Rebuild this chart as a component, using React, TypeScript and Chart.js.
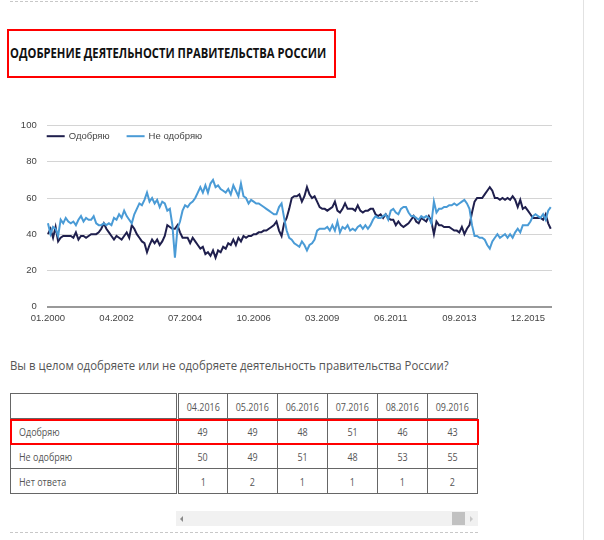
import { useEffect, useRef } from "react";
import { Chart, registerables, type ChartOptions, type Plugin } from "chart.js";

Chart.register(...registerables);

// monthly surveys, 01.2000 .. 09.2016 (199 points), labels every 27th point
const tickLabels = ["01.2000", "04.2002", "07.2004", "10.2006", "03.2009", "06.2011", "09.2013", "12.2015"];
const tickEvery = 27;

const approve = [
  40, 43, 38, 44, 36, 38, 39, 39, 39, 39, 38, 41, 37, 39, 39, 38, 39, 40, 40, 40,
  41, 43, 46, 43, 41, 39, 37, 39, 38, 37, 39, 41, 38, 45, 43, 40, 38, 36, 35, 30,
  34, 37, 35, 37, 34, 36, 39, 45, 44, 43, 43, 45, 41, 38, 38, 38, 35, 38, 36, 34,
  32, 33, 29, 30, 28, 31, 27, 31, 30, 33, 32, 35, 34, 37, 34, 38, 36, 39, 38, 39,
  39, 40, 40, 41, 41, 42, 42, 43, 44, 45, 47, 42, 39, 46, 49, 54, 60, 61, 61, 62,
  58, 61, 66, 62, 60, 61, 58, 55, 54, 54, 53, 54, 55, 58, 53, 52, 54, 57, 54, 54,
  54, 53, 56, 53, 52, 53, 53, 54, 54, 51, 50, 51, 49, 51, 49, 48, 48, 45, 47, 45,
  44, 45, 46, 48, 50, 47, 46, 49, 48, 47, 50, 47, 40, 47, 45, 45, 44, 44, 44, 43,
  42, 42, 41, 44, 40, 43, 45, 52, 58, 60, 60, 60, 62, 64, 66, 64, 60, 60, 59, 60,
  59, 60, 59, 61, 59, 55, 59, 54, 55, 53, 51, 49, 49, 49, 49, 48, 51, 46, 43,
];

const disapprove = [
  46, 40, 44, 43, 39, 48, 46, 49, 47, 46, 47, 45, 48, 50, 47, 49, 48, 48, 50, 46,
  45, 45, 46, 45, 46, 45, 49, 48, 51, 49, 53, 50, 48, 46, 51, 54, 57, 56, 59, 63,
  58, 60, 57, 59, 55, 58, 57, 53, 54, 45, 27, 43, 47, 53, 56, 55, 57, 58, 60, 63,
  66, 63, 67, 63, 68, 70, 66, 67, 65, 64, 63, 65, 62, 67, 64, 61, 68, 61, 60, 57,
  59, 58, 57, 57, 56, 55, 54, 53, 52, 51, 51, 55, 57, 49, 42, 38, 37, 35, 34, 33,
  36, 34, 31, 34, 35, 37, 42, 43, 43, 43, 44, 42, 45, 42, 47, 41, 44, 43, 45, 42,
  43, 42, 44, 45, 43, 45, 43, 45, 48, 50, 49, 49, 50, 51, 48, 53, 54, 52, 51, 54,
  55, 55, 52, 50, 50, 49, 48, 50, 49, 50, 49, 46, 58, 52, 54, 54, 55, 55, 56, 56,
  57, 56, 57, 58, 59, 57, 54, 45, 39, 39, 38, 38, 37, 34, 32, 36, 38, 40, 38, 39,
  40, 38, 40, 38, 41, 43, 41, 45, 45, 45, 47, 50, 51, 50, 49, 51, 48, 53, 55,
];

const tableMonths = ["04.2016", "05.2016", "06.2016", "07.2016", "08.2016", "09.2016"];
const tableRows = ["Одобряю", "Не одобряю", "Нет ответа"];
const tableApprove = [49, 49, 48, 51, 46, 43];
const tableDisapprove = [50, 49, 51, 48, 53, 55];
const tableNoAnswer = [1, 2, 1, 1, 1, 2];

const DARK = "#1f1f4d";
const LIGHT = "#4a9bd6";
const FONT_FAMILY = "'Liberation Sans', Arial, sans-serif";
const AXIS_FONT = { family: FONT_FAMILY, size: 9.5 };

// legend drawn inside the plot, just under the top gridline
const inlineLegend: Plugin<"line"> = {
  id: "inlineLegend",
  afterDraw(c) {
    const { ctx, chartArea } = c;
    ctx.save();
    ctx.font = `9.5px ${FONT_FAMILY}`;
    ctx.textBaseline = "middle";
    let x = chartArea.left;
    const y = chartArea.top + 10.5;
    c.data.datasets.forEach((ds) => {
      ctx.fillStyle = ds.borderColor as string;
      ctx.fillRect(x, y - 1, 18, 2);
      ctx.fillStyle = "#444";
      ctx.fillText(ds.label ?? "", x + 22, y);
      x += 22 + ctx.measureText(ds.label ?? "").width + 17;
    });
    ctx.restore();
  },
};

function ApprovalChart() {
  const canvasRef = useRef<HTMLCanvasElement | null>(null);

  useEffect(() => {
    if (!canvasRef.current) return;
    const options: ChartOptions<"line"> = {
      animation: false,
      responsive: false,
      layout: { padding: { left: 0, right: 8, top: 15.5, bottom: 0 } },
      plugins: {
        legend: { display: false },
        tooltip: { enabled: false },
      },
      scales: {
        x: {
          type: "linear",
          min: -0.5,
          max: approve.length - 0.5,
          grid: { display: false, drawTicks: false },
          border: { display: false },
          ticks: {
            padding: 6,
            color: "#444",
            font: AXIS_FONT,
            maxRotation: 0,
            autoSkip: false,
            callback: (v) => tickLabels[Number(v) / tickEvery] ?? "",
          },
          afterBuildTicks: (s) => {
            s.ticks = tickLabels.map((_, k) => ({ value: k * tickEvery }));
          },
          afterFit: (s) => {
            s.height = 23.5;
          },
        },
        y: {
          min: 0,
          max: 100,
          ticks: { stepSize: 20, padding: 10, color: "#444", font: AXIS_FONT },
          grid: {
            color: (ctx) => (ctx.tick && ctx.tick.value === 0 ? "#999" : "#d4d4d4"),
            lineWidth: (ctx) => (ctx.tick && ctx.tick.value === 0 ? 2 : 1),
            drawTicks: false,
          },
          border: { display: false },
          afterFit: (s) => {
            s.width = 46.7;
          },
        },
      },
    };
    const chart = new Chart(canvasRef.current, {
      type: "line",
      data: {
        datasets: [
          {
            label: "Одобряю",
            data: approve.map((y, x) => ({ x, y })),
            borderColor: DARK,
            backgroundColor: DARK,
            borderWidth: 2,
            pointRadius: 0,
            order: 1,
          },
          {
            label: "Не одобряю",
            data: disapprove.map((y, x) => ({ x, y })),
            borderColor: LIGHT,
            backgroundColor: LIGHT,
            borderWidth: 2,
            pointRadius: 0,
            order: 0,
          },
        ],
      },
      options,
      plugins: [inlineLegend],
    });
    return () => chart.destroy();
  }, []);

  return (
    <canvas ref={canvasRef} width={560} height={220} style={{ position: "absolute", left: 0, top: 110 }} />
  );
}

const cell: React.CSSProperties = {
  border: "1px solid #666",
  padding: 0,
  height: 24,
  textAlign: "center",
  color: "#555",
  whiteSpace: "nowrap",
};

// the page's text is narrower than Open Sans, so squeeze it horizontally
function Narrow({ sx, origin, children }: { sx: number; origin: string; children: React.ReactNode }) {
  return (
    <span style={{ display: "inline-block", transform: `scale(${sx}, 1)`, transformOrigin: origin }}>{children}</span>
  );
}

export default function App() {
  const rows = [tableApprove, tableDisapprove, tableNoAnswer];
  return (
    <div
      style={{
        position: "fixed",
        left: 0,
        top: 0,
        width: 604,
        height: 540,
        background: "#fff",
        fontFamily: "'Open Sans', sans-serif",
        overflow: "hidden",
      }}
    >
      <div style={{ position: "absolute", left: 10, top: 1, width: 468, borderTop: "1px dashed #c8c8c8" }} />
      <div style={{ position: "absolute", left: 583, top: 0, width: 1, height: 540, background: "#e2e2e2" }} />

      <div
        style={{
          position: "absolute",
          left: 7,
          top: 29,
          width: 329,
          height: 49,
          border: "2px solid #f00",
          boxSizing: "border-box",
        }}
      />
      <div
        style={{
          position: "absolute",
          left: 10,
          top: 43,
          fontSize: 14,
          fontWeight: 700,
          color: "#111",
          whiteSpace: "nowrap",
          lineHeight: "20px",
        }}
      >
        <Narrow sx={0.8} origin="left center">
          ОДОБРЕНИЕ ДЕЯТЕЛЬНОСТИ ПРАВИТЕЛЬСТВА РОССИИ
        </Narrow>
      </div>

      <ApprovalChart />

      <div
        style={{
          position: "absolute",
          left: 10,
          top: 356,
          fontSize: 13,
          color: "#555",
          whiteSpace: "nowrap",
          lineHeight: "18px",
        }}
      >
        <Narrow sx={0.876} origin="left center">
          Вы в целом одобряете или не одобряете деятельность правительства России?
        </Narrow>
      </div>

      <table
        style={{
          position: "absolute",
          left: 10,
          top: 393,
          borderCollapse: "collapse",
          tableLayout: "fixed",
          fontSize: 11.5,
          width: 467,
        }}
      >
        <colgroup>
          <col style={{ width: 167 }} />
          {tableMonths.map((m) => (
            <col key={m} style={{ width: 50 }} />
          ))}
        </colgroup>
        <tbody>
          <tr>
            <td style={{ ...cell, borderRight: "3px double #666" }} />
            {tableMonths.map((m) => (
              <td key={m} style={cell}>
                <Narrow sx={0.78} origin="center center">{m}</Narrow>
              </td>
            ))}
          </tr>
          {rows.map((vals, r) => (
            <tr key={tableRows[r]}>
              <td style={{ ...cell, textAlign: "left", paddingLeft: 8, borderRight: "3px double #666" }}>
                <Narrow sx={0.78} origin="left center">{tableRows[r]}</Narrow>
              </td>
              {vals.map((v, k) => (
                <td key={k} style={cell}>
                  <Narrow sx={0.78} origin="center center">{v}</Narrow>
                </td>
              ))}
            </tr>
          ))}
        </tbody>
      </table>

      <div
        style={{
          position: "absolute",
          left: 10,
          top: 419,
          width: 469,
          height: 26,
          border: "2px solid #f00",
          boxSizing: "border-box",
        }}
      />

      <div style={{ position: "absolute", left: 176, top: 511, width: 302, height: 15, background: "#f1f1f1" }}>
        <div
          style={{
            position: "absolute",
            left: 4,
            top: 5,
            width: 0,
            height: 0,
            borderTop: "3px solid transparent",
            borderBottom: "3px solid transparent",
            borderRight: "3px solid #8a8a8a",
          }}
        />
        <div style={{ position: "absolute", left: 276, top: 1, width: 13, height: 13, background: "#c1c1c1" }} />
        <div
          style={{
            position: "absolute",
            left: 294,
            top: 5,
            width: 0,
            height: 0,
            borderTop: "3px solid transparent",
            borderBottom: "3px solid transparent",
            borderLeft: "3px solid #c8c8c8",
          }}
        />
      </div>

      <div style={{ position: "absolute", left: 10, top: 532, width: 468, borderTop: "1px dashed #c8c8c8" }} />
    </div>
  );
}
